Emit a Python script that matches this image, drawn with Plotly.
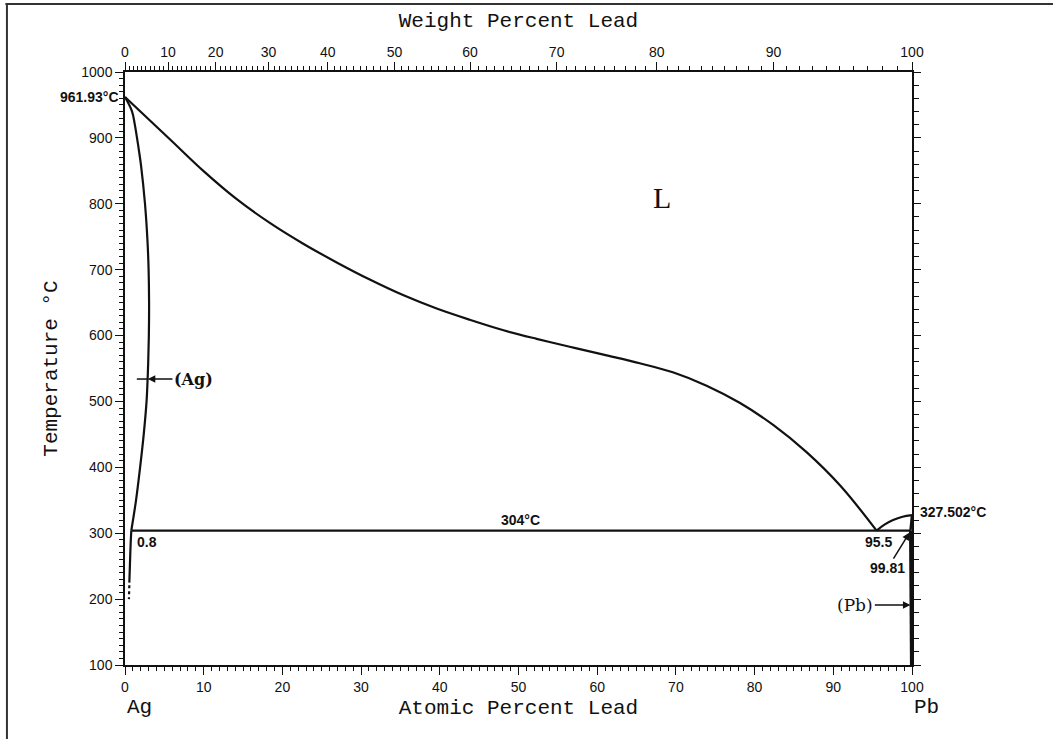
import plotly.graph_objects as go

# ---------------- data (atomic percent Pb, temperature in deg C) ----------------
liq_ag_x = [0, 5.7, 9.95, 14.2, 18.4, 22.7, 26.9, 31.1, 35.4, 39.6, 43.8, 48.1,
            52.3, 56.5, 60.8, 65.4, 69.7, 73.9, 78.1, 82.4, 86.6, 90.9, 95.5]
liq_ag_t = [961.93, 898, 850, 807, 771, 739, 711, 685, 661, 641, 624, 608,
            595, 583, 571, 558, 544, 524, 498, 464, 423, 372, 304]

liq_pb_x = [95.5, 96.5, 97.6, 98.8, 100]
liq_pb_t = [304, 313, 320, 325, 327.502]

sol_ag_x = [0, 0.9, 1.22, 1.5, 1.78, 2.04, 2.54, 2.85, 3.0, 3.06, 3.03, 2.95, 2.86, 2.74,
            2.38, 1.92, 1.4, 0.8]
sol_ag_t = [961.93, 940, 922, 902, 880, 858, 800, 745, 700, 650, 600, 560, 530, 500,
            450, 400, 350, 304]

solvus_ag_x = [0.8, 0.72, 0.62, 0.55]
solvus_ag_t = [304, 285, 250, 225]

solvus_ag_dash_x = [0.55, 0.5]
solvus_ag_dash_t = [221, 200]

sol_pb_x = [100, 99.81]
sol_pb_t = [327.502, 304]

solvus_pb_x = [99.81, 99.85, 99.9, 99.93]
solvus_pb_t = [304, 250, 180, 100]

eut_x = [0.8, 99.81]
eut_t = [304, 304]

wt_major = [0, 10, 20, 30, 40, 50, 60, 70, 80, 90, 100]
wt_minor = list(range(0, 101))
M_AG, M_PB = 107.8682, 207.2


def wt_to_at(w):
    a = w / M_PB
    b = (100 - w) / M_AG
    return 100 * a / (a + b)


INK = "#111111"
LW = 2.2
MONO = "Liberation Mono, DejaVu Sans Mono, monospace"
SANS = "Liberation Sans, Arial, sans-serif"

fig = go.Figure()


def line(x, y, dash="solid", width=LW, shape="spline"):
    fig.add_trace(go.Scatter(x=x, y=y, mode="lines",
                             line=dict(color=INK, width=width, dash=dash, shape=shape, smoothing=1.0),
                             hoverinfo="skip", showlegend=False))


line(liq_ag_x, liq_ag_t)
line(liq_pb_x, liq_pb_t)
line(sol_ag_x, sol_ag_t)
line(solvus_ag_x, solvus_ag_t)
line(solvus_ag_dash_x, solvus_ag_dash_t, dash="3px,3px", shape="linear")
line(sol_pb_x, sol_pb_t, width=2.5, shape="linear")
line(solvus_pb_x, solvus_pb_t, width=3, shape="linear")
line(eut_x, eut_t, shape="linear")

# invisible trace for the top / right axes
fig.add_trace(go.Scatter(x=[0, 100], y=[100, 1000], xaxis="x2", yaxis="y2", mode="markers",
                         marker=dict(opacity=0), hoverinfo="skip", showlegend=False))

fig.update_layout(
    width=1053, height=739,
    margin=dict(l=125, r=141, t=72, b=74),
    paper_bgcolor="white", plot_bgcolor="white",
    font=dict(family=SANS, color=INK),
    xaxis=dict(range=[0, 100], dtick=10, tick0=0, ticks="outside", ticklen=8, tickwidth=1.2,
               tickcolor=INK, showline=True, linecolor=INK, linewidth=1.5, showgrid=False,
               zeroline=False, tickfont=dict(family=SANS, size=14, color=INK),
               minor=dict(dtick=1, ticks="outside", ticklen=4, tickcolor=INK, tickwidth=1),
               title=dict(text="Atomic Percent Lead", font=dict(family=MONO, size=21, color=INK),
                          standoff=6)),
    xaxis2=dict(range=[0, 100], overlaying="x", side="top", anchor="y",
                tickmode="array", tickvals=[wt_to_at(w) for w in wt_major],
                ticktext=[str(w) for w in wt_major],
                ticks="outside", ticklen=8, tickwidth=1.2, tickcolor=INK,
                showline=True, linecolor=INK, linewidth=1.5, showgrid=False, zeroline=False,
                tickfont=dict(family=SANS, size=14, color=INK),
                minor=dict(tickmode="array", tickvals=[wt_to_at(w) for w in wt_minor],
                           ticks="outside", ticklen=4, tickcolor=INK, tickwidth=1),
                title=dict(text="Weight Percent Lead", font=dict(family=MONO, size=21, color=INK),
                           standoff=10)),
    yaxis=dict(range=[100, 1000], dtick=100, tick0=0, ticks="outside", ticklen=8, tickwidth=1.2,
               tickcolor=INK, showline=True, linecolor=INK, linewidth=1.5, showgrid=False,
               zeroline=False, tickfont=dict(family=SANS, size=14, color=INK),
               minor=dict(dtick=10, ticks="outside", ticklen=4, tickcolor=INK, tickwidth=1),
               title=dict(text="Temperature °C", font=dict(family=MONO, size=21, color=INK),
                          standoff=18)),
    yaxis2=dict(range=[100, 1000], overlaying="y", side="right", anchor="x", dtick=100, tick0=0,
                ticks="outside", ticklen=7, tickwidth=1.2, tickcolor=INK, showticklabels=False,
                showline=True, linecolor=INK, linewidth=1.5, showgrid=False, zeroline=False,
                minor=dict(dtick=20, ticks="outside", ticklen=5, tickcolor=INK, tickwidth=1)),
)

ann = []


def text(x, y, s, size=15, family=SANS, xanchor="center", yanchor="middle", xshift=0, yshift=0,
         xref="x", yref="y"):
    ann.append(dict(x=x, y=y, xref=xref, yref=yref, text=s, showarrow=False, xanchor=xanchor,
                    yanchor=yanchor, xshift=xshift, yshift=yshift,
                    font=dict(family=family, size=size, color=INK)))


text(0, 961.93, "<b>961.93°C</b>", size=14, xanchor="right", xshift=-4)
text(1.3, 304, "<b>0.8</b>", size=14, xanchor="left", yanchor="top", yshift=-1)
text(50.2, 304, "<b>304°C</b>", size=14, yanchor="bottom", yshift=1)
text(95.7, 304, "<b>95.5</b>", size=14, yanchor="top", yshift=-1)
text(100, 332, "<b>327.502°C</b>", size=14, xanchor="left", xshift=6)
text(68.2, 810, "L", size=30, family="Liberation Serif, serif")
text(0, -0.072, "Ag", size=21, family=MONO, xanchor="left", yref="paper")
text(100, -0.072, "Pb", size=21, family=MONO, xanchor="left", yref="paper")

SERIF = "DejaVu Serif, serif"
ann.append(dict(x=2.9, y=534, xref="x", yref="y", ax=8.7, ay=534, axref="x", ayref="y",
                text="<b>(Ag)</b>", showarrow=True, arrowhead=2, arrowsize=1, arrowwidth=1.5,
                arrowcolor=INK, font=dict(family=SERIF, size=16, color=INK)))
ann.append(dict(x=99.8, y=191, xref="x", yref="y", ax=92.8, ay=191, axref="x", ayref="y",
                text="(Pb)", showarrow=True, arrowhead=2, arrowsize=1, arrowwidth=1.5,
                arrowcolor=INK, font=dict(family=SERIF, size=17, color=INK)))
ann.append(dict(x=99.7, y=301, xref="x", yref="y", ax=96.9, ay=247, axref="x", ayref="y",
                text="<b>99.81</b>", showarrow=True, arrowhead=2, arrowsize=1, arrowwidth=1.5,
                arrowcolor=INK, font=dict(family=SANS, size=14, color=INK)))

fig.update_layout(annotations=ann)

# short tail of the (Ag) pointer, left of the boundary
fig.add_shape(type="line", xref="x", yref="y", x0=1.5, x1=2.9, y0=534, y1=534,
              line=dict(color=INK, width=1.5))

# page frame (top and left rule of the scanned sheet)
fig.add_shape(type="line", xref="paper", yref="paper", x0=-0.152, x1=1.18, y0=1.1147, y1=1.1147,
              line=dict(color="#333333", width=2))
fig.add_shape(type="line", xref="paper", yref="paper", x0=-0.150, x1=-0.150, y0=1.1147, y1=-0.13,
              line=dict(color="#333333", width=2))

fig.write_html("out.html")
